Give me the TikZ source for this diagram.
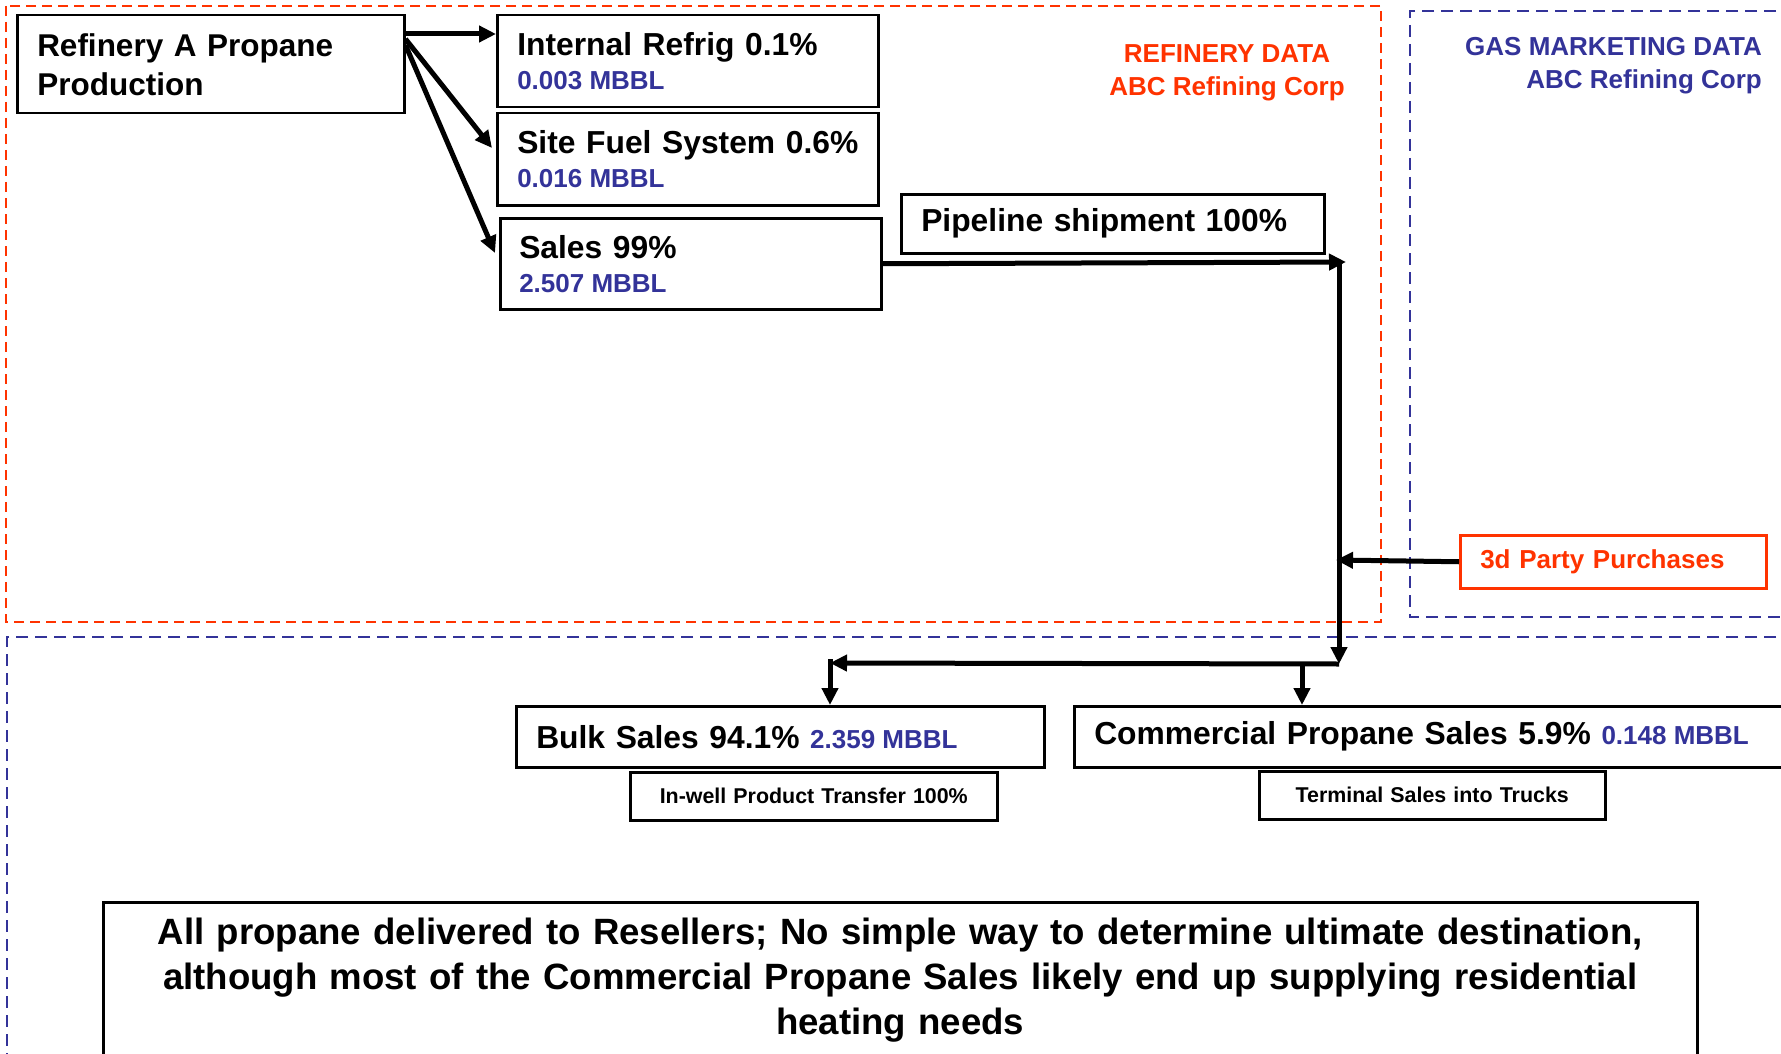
\documentclass[tikz,border=0pt]{standalone}
\usepackage{fontspec}
\setmainfont{Liberation Sans}
\usetikzlibrary{arrows.meta,calc}
\definecolor{refred}{RGB}{255,51,0}
\definecolor{mblue}{RGB}{51,51,153}
\tikzset{
  box/.style={draw=black, line width=2.5pt, anchor=north west, align=left,
    inner ysep=0pt, font=\bfseries\fontsize{31.8}{34}\selectfont},
  cbox/.style={box, align=center},
  arr/.style={line width=5pt, -{Triangle[length=17pt,width=16pt]}},
  redzone/.style={draw=refred, line width=2.5pt, dash pattern=on 10pt off 6pt},
  bluezone/.style={draw=mblue, line width=2.5pt, dash pattern=on 12pt off 7pt},
}
\newcommand{\subsz}{\fontsize{26}{34}\selectfont\spaceskip=0pt\xspaceskip=0pt\color{mblue}}
\begin{document}
\begin{tikzpicture}[x=1pt,y=-1pt]
\fill[white] (0,0) rectangle (1781,1054);
\clip (0,0) rectangle (1781,1054);

% data zones
\draw[redzone] (6,6) rectangle (1381,622);
\draw[bluezone] (1795,11) -- (1410,11) -- (1410,617) -- (1795,617);
\draw[bluezone] (1795,637) -- (7,637) -- (7,1070);

% zone titles
\node[font=\bfseries\fontsize{26}{33}\selectfont, text=refred, align=center, inner sep=0pt]
  (reftitle) at (1227,73) {REFINERY DATA\\ABC Refining Corp};
\node[font=\bfseries\fontsize{26}{33}\selectfont, text=mblue, align=right, inner sep=0pt, anchor=east]
  (gastitle) at (1762,66) {GAS MARKETING DATA\\ABC Refining Corp};

% refinery boxes
\node[box, inner xsep=20pt, minimum width=387pt, minimum height=98pt, text width=347pt,
  font=\bfseries\fontsize{31.5}{39}\selectfont] (ref) at (16,14) {Refinery A Propane\\Production};
\node[box, inner xsep=20pt, minimum width=381pt, minimum height=92pt, text width=341pt] (intr) at (496,14)
  {\mbox{Internal Refrig 0.1\%}\\{\subsz 0.003 MBBL}};
\node[box, inner xsep=20pt, minimum width=381pt, minimum height=92pt, text width=341pt] (site) at (496,112)
  {\mbox{Site Fuel System 0.6\%}\\{\subsz 0.016 MBBL}};
\node[box, inner xsep=19pt, minimum width=381pt, minimum height=91pt, text width=343pt] (sales) at (499,217)
  {Sales 99\%\\{\subsz 2.507 MBBL}};
\node[box, inner xsep=20pt, minimum width=423pt, minimum height=59pt, text width=383pt] (pipe) at (900,193)
  {\mbox{Pipeline shipment 100\%}};

% third party supply
\node[box, draw=refred, inner xsep=20pt, minimum width=306pt, minimum height=53pt, text width=266pt,
  text=refred, font=\bfseries\fontsize{26}{30}\selectfont] (third) at (1459,534) {3d Party Purchases};

% marketing boxes
\node[box, inner xsep=20pt, minimum width=528pt, minimum height=61pt, text width=488pt] (bulk) at (515,705)
  {\mbox{Bulk Sales 94.1\% {\subsz 2.359 MBBL}}};
\node[box, inner xsep=20pt, minimum width=722pt, minimum height=61pt, text width=682pt] (comm) at (1073,705)
  {\mbox{Commercial Propane Sales 5.9\% {\subsz 0.148 MBBL}}};
\node[cbox, inner xsep=0pt, minimum width=367pt, minimum height=48pt, text width=367pt,
  font=\bfseries\fontsize{21.4}{26}\selectfont] (inwell) at (629,771) {In-well Product Transfer 100\%};
\node[cbox, inner xsep=0pt, minimum width=346pt, minimum height=48pt, text width=346pt,
  font=\bfseries\fontsize{21.4}{26}\selectfont] (term) at (1258,770) {Terminal Sales into Trucks};

% note
\node[cbox, inner xsep=0pt, minimum width=1594pt, minimum height=156pt, text width=1594pt,
  font=\bfseries\fontsize{36.6}{45}\selectfont] (note) at (102,901)
  {All propane delivered to Resellers; No simple way to determine ultimate destination,\\
   although most of the Commercial Propane Sales likely end up supplying residential\\
   heating needs};

% junctions
\coordinate (pipeend) at (1346,262);
\coordinate (corner) at (1339,262);
\coordinate (merge) at (1339,664);
\coordinate (split) at (830,663);
\coordinate (commtap) at (1302,663);
\coordinate (thirdin) at (1336,560);

% production split
\draw[arr] ([yshift=-20pt]ref.north east) -- ([yshift=-20pt]intr.north west);
\draw[arr] ([yshift=-25pt]ref.north east) -- ([xshift=-4pt,yshift=-36pt]site.north west);
\draw[arr] ([yshift=-31pt]ref.north east) -- ([xshift=-4pt,yshift=-36pt]sales.north west);

% pipeline to marketing
\draw[arr] (sales.east) -- (pipeend);
\draw[arr] (corner) -- (merge);
\draw[arr] (third.west) -- (thirdin);
\draw[arr] (merge) -- (split);
\draw[arr] ([yshift=4pt]split) -- (split |- bulk.north);
\draw[arr] (commtap) -- (commtap |- comm.north);
\end{tikzpicture}
\end{document}
